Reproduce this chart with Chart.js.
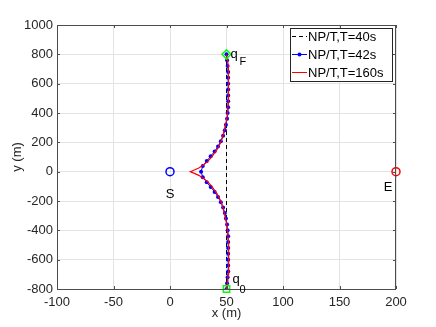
<!DOCTYPE html>
<html>
<head>
<meta charset="utf-8">
<script src="https://cdn.jsdelivr.net/npm/chart.js@4"></script>
<style>
  html, body { margin: 0; padding: 0; background: #fff; }
  canvas { display: block; }
</style>
</head>
<body>
<canvas id="trajChart" width="436" height="327"></canvas>
<script>
// straight reference line, T=40s
const line40X = [50, 50];
const line40Y = [-800, 800];

// T=42s trajectory, one sample per second
const traj42X = [50, 50.5, 51, 51.5, 51.5, 51.5, 51.5, 51.5, 51.5, 51.5, 51, 50.5, 49.5, 48.5, 47, 45, 42.5, 39.5, 36, 32.5, 29,
  27.5,
  29, 32.5, 36, 39.5, 42.5, 45, 47, 48.5, 49.5, 50.5, 51, 51.5, 51.5, 51.5, 51.5, 51.5, 51.5, 51.5, 51, 50.5, 50];
const traj42Y = [-800, -760, -720, -680, -640, -600, -560, -520, -480, -440, -400, -360, -320, -282, -245, -208, -172, -138, -105, -72, -38,
  0,
  38, 72, 105, 138, 172, 208, 245, 282, 320, 360, 400, 440, 480, 520, 560, 600, 640, 680, 720, 760, 800];

// T=160s trajectory
const traj160X = [50, 51, 51.5, 52, 51.8, 51, 50, 48.5, 47, 45, 41.5, 37, 33.5, 29.5, 25.5, 21, 18, 21, 25.5, 29.5, 33.5, 37, 41.5, 45, 47, 48.5, 50, 51, 51.8, 52, 51.5, 51, 50];
const traj160Y = [-800, -760, -700, -600, -500, -400, -350, -300, -250, -200, -150, -100, -70, -45, -25, -10, 0, 10, 25, 45, 70, 100, 150, 200, 250, 300, 350, 400, 500, 600, 700, 760, 800];

// special points
const startPt = [0, 0];   // S
const endPt = [200, 0];   // E
const qF = [50, 800];
const q0 = [50, -800];

const seriesNames = ["NP/T,T=40s", "NP/T,T=42s", "NP/T,T=160s"];

const FONT = '"Liberation Sans", Arial, Helvetica, sans-serif';

function toPoints(xs, ys) {
  return xs.map((x, i) => ({ x: x, y: ys[i] }));
}

// box, inward ticks, labels and legend
const decorPlugin = {
  id: "decor",
  afterDraw(chart) {
    const ctx = chart.ctx;
    const area = chart.chartArea;
    const xs = chart.scales.x;
    const ys = chart.scales.y;
    ctx.save();

    // axes box + inward ticks
    ctx.strokeStyle = "#4d4d4d";
    ctx.lineWidth = 1;
    ctx.strokeRect(Math.round(area.left) + 0.5, Math.round(area.top) + 0.5,
      Math.round(area.right - area.left) - 1, Math.round(area.bottom - area.top));
    ctx.beginPath();
    xs.ticks.forEach((t) => {
      const px = Math.round(xs.getPixelForValue(t.value)) + 0.5;
      ctx.moveTo(px, area.bottom); ctx.lineTo(px, area.bottom - 3);
      ctx.moveTo(px, area.top); ctx.lineTo(px, area.top + 3);
    });
    ys.ticks.forEach((t) => {
      const py = Math.round(ys.getPixelForValue(t.value)) + 0.5;
      ctx.moveTo(area.left, py); ctx.lineTo(area.left + 3, py);
      ctx.moveTo(area.right, py); ctx.lineTo(area.right - 3, py);
    });
    ctx.stroke();

    // point labels
    ctx.fillStyle = "#000";
    ctx.textBaseline = "alphabetic";
    ctx.font = "13px " + FONT;
    const fx = xs.getPixelForValue(qF[0]);
    const fy = ys.getPixelForValue(qF[1]);
    ctx.textAlign = "left";
    ctx.fillText("q", fx + 4, fy + 4);
    ctx.font = "11px " + FONT;
    ctx.fillText("F", fx + 13, fy + 11);
    const zx = xs.getPixelForValue(q0[0]);
    const zy = ys.getPixelForValue(q0[1]);
    ctx.font = "13px " + FONT;
    ctx.fillText("q", zx + 6, zy - 6);
    ctx.font = "11px " + FONT;
    ctx.fillText("0", zx + 13, zy + 4);

    ctx.font = "13px " + FONT;
    ctx.textAlign = "center";
    ctx.fillText("S", xs.getPixelForValue(startPt[0]), ys.getPixelForValue(startPt[1]) + 26);
    ctx.fillText("E", xs.getPixelForValue(endPt[0]) - 8, ys.getPixelForValue(endPt[1]) + 19);

    // legend
    const lx = 290.5, ly = 28.5, lw = 102, lh = 53;
    ctx.fillStyle = "#fff";
    ctx.fillRect(lx, ly, lw, lh);
    ctx.strokeStyle = "#262626";
    ctx.strokeRect(lx, ly, lw, lh);
    const rows = [36, 54, 72];
    ctx.lineWidth = 1;
    // dashed black
    ctx.strokeStyle = "#000";
    ctx.setLineDash([4, 3]);
    ctx.beginPath(); ctx.moveTo(292, rows[0] + 0.5); ctx.lineTo(307, rows[0] + 0.5); ctx.stroke();
    ctx.setLineDash([]);
    // blue with marker
    ctx.strokeStyle = "#0000ff";
    ctx.beginPath(); ctx.moveTo(292, rows[1] + 0.5); ctx.lineTo(307, rows[1] + 0.5); ctx.stroke();
    ctx.fillStyle = "#0000ff";
    ctx.beginPath(); ctx.arc(299.5, rows[1] + 0.5, 2, 0, Math.PI * 2); ctx.fill();
    // red
    ctx.strokeStyle = "#ff0000";
    ctx.beginPath(); ctx.moveTo(292, rows[2] + 0.5); ctx.lineTo(307, rows[2] + 0.5); ctx.stroke();

    ctx.fillStyle = "#000";
    ctx.textAlign = "left";
    ctx.textBaseline = "middle";
    ctx.font = "13px " + FONT;
    seriesNames.forEach((name, i) => ctx.fillText(name, 308, rows[i] + 1));

    ctx.restore();
  }
};

const ctx = document.getElementById("trajChart").getContext("2d");
new Chart(ctx, {
  type: "scatter",
  data: {
    datasets: [
      {
        label: "S",
        data: [{ x: startPt[0], y: startPt[1] }],
        pointStyle: "circle", pointRadius: 4, pointBorderWidth: 1.5,
        pointBorderColor: "#0000ff", pointBackgroundColor: "rgba(0,0,0,0)",
        clip: false, order: 0
      },
      {
        label: "E",
        data: [{ x: endPt[0], y: endPt[1] }],
        pointStyle: "circle", pointRadius: 4, pointBorderWidth: 1.5,
        pointBorderColor: "#ff0000", pointBackgroundColor: "rgba(0,0,0,0)",
        clip: false, order: 0
      },
      {
        label: "qF",
        data: [{ x: qF[0], y: qF[1] }],
        pointStyle: "rectRot", pointRadius: 4.5, pointBorderWidth: 1.5,
        pointBorderColor: "#00ff00", pointBackgroundColor: "rgba(0,0,0,0)",
        clip: false, order: 0
      },
      {
        label: "q0",
        data: [{ x: q0[0], y: q0[1] }],
        pointStyle: "rect", pointRadius: 4.5, pointBorderWidth: 1.5,
        pointBorderColor: "#00ff00", pointBackgroundColor: "rgba(0,0,0,0)",
        clip: false, order: 0
      },
      {
        label: seriesNames[2],
        data: toPoints(traj160X, traj160Y),
        showLine: true, borderColor: "#ff0000", borderWidth: 1.2,
        pointRadius: 0, tension: 0, order: 1
      },
      {
        label: seriesNames[1],
        data: toPoints(traj42X, traj42Y),
        showLine: true, borderColor: "#0000ff", borderWidth: 1,
        pointRadius: 2, pointBorderWidth: 0, pointBackgroundColor: "#0000ff",
        tension: 0, order: 2
      },
      {
        label: seriesNames[0],
        data: toPoints(line40X, line40Y),
        showLine: true, borderColor: "#000", borderWidth: 1, borderDash: [4, 3],
        pointRadius: 0, order: 3
      }
    ]
  },
  options: {
    responsive: false,
    animation: false,
    devicePixelRatio: 1,
    layout: { padding: { left: 0, right: 40, top: 25, bottom: 0 } },
    plugins: { legend: { display: false }, tooltip: { enabled: false } },
    scales: {
      x: {
        type: "linear", min: -100, max: 200,
        afterFit: (s) => { s.height = 38; },
        ticks: { stepSize: 50, padding: 6, color: "#262626", font: { size: 13, family: FONT },
          callback: (v) => String(v) },
        grid: { color: "#e3e3e3", drawTicks: false },
        border: { display: false },
        title: { display: true, text: "x (m)", color: "#262626", font: { size: 13, family: FONT }, padding: { top: 0, bottom: 6 } }
      },
      y: {
        type: "linear", min: -800, max: 1000,
        afterFit: (s) => { s.width = 57; },
        ticks: { stepSize: 200, padding: 4, color: "#262626", font: { size: 13, family: FONT },
          callback: (v) => String(v) },
        grid: { color: "#e3e3e3", drawTicks: false },
        border: { display: false },
        title: { display: true, text: "y (m)", color: "#262626", font: { size: 13, family: FONT }, padding: 10 }
      }
    }
  },
  plugins: [decorPlugin]
});
</script>
</body>
</html>
